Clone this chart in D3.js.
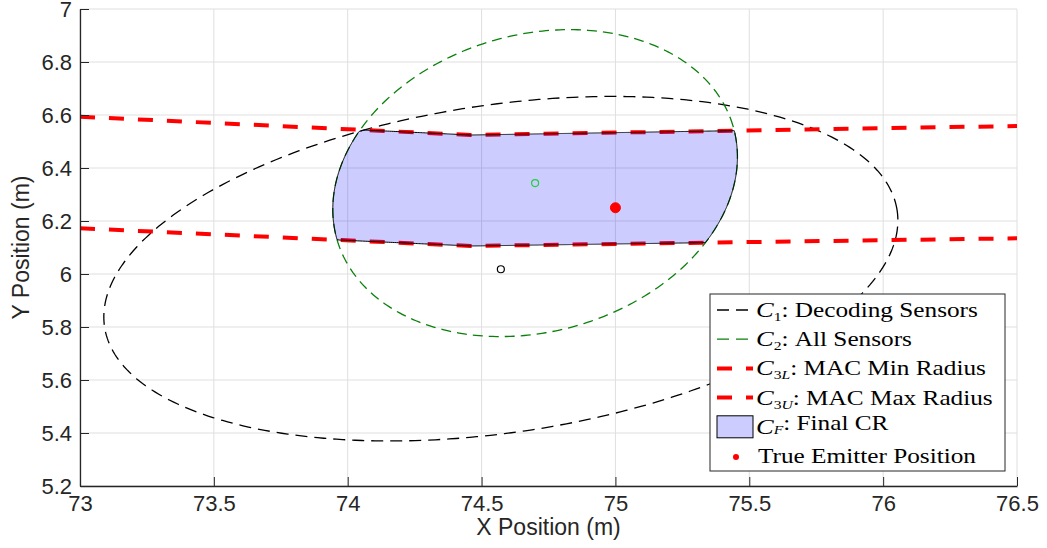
<!DOCTYPE html>
<html><head><meta charset="utf-8">
<script src="https://cdn.jsdelivr.net/npm/d3@7"></script>
<style>body{margin:0;background:#fff} svg{display:block}</style>
</head><body><svg id="chart" width="1047" height="548"></svg>
<script>
// ---- data ----
const xTicks = [73, 73.5, 74, 74.5, 75, 75.5, 76, 76.5];
const yTicks = [5.2, 5.4, 5.6, 5.8, 6, 6.2, 6.4, 6.6, 6.8, 7];
// ellipse parameters: [centre x, centre y, semi-axis a, semi-axis b, rotation (deg)]
const c1Ellipse = [74.572, 6.02, 1.4965, 0.6185, 8.45];
const c2Ellipse = [74.70, 6.343, 0.770, 0.560, 16.2];
// MAC radius arcs (sampled polyline)
const c3LX = [73, 74.46, 76.5];
const c3LY = [6.5936, 6.5245, 6.5585];
const c3UX = [73, 74.46, 76.5];
const c3UY = [6.1725, 6.1057, 6.1347];
// point estimates
const c1Estimate = [74.572, 6.018];
const c2Estimate = [74.70, 6.343];
const trueEmitter = [75.0, 6.25];
const legendLabels = ["Decoding Sensors", "All Sensors", "MAC Min Radius", "MAC Max Radius", "Final CR", "True Emitter Position"];
const legendSubs = [["1", ""], ["2", ""], ["3", "L"], ["3", "U"], ["", "F"], null];

// ---- layout ----
const L = 80, R = 1017, T = 9, B = 486;
const svg = d3.select("#chart");
const x = d3.scaleLinear().domain([73, 76.5]).range([L, R]);
const y = d3.scaleLinear().domain([5.2, 7]).range([B, T]);
const axisCol = "#262626";
const sansFont = "'Liberation Sans', Arial, Helvetica, sans-serif";
const serifFont = "'Liberation Serif', 'Times New Roman', serif";

svg.append("defs").append("clipPath").attr("id", "plotClip")
  .append("rect").attr("x", L).attr("y", T).attr("width", R - L).attr("height", B - T);

// grid
const grid = svg.append("g");
grid.selectAll("line.vx").data(xTicks).join("line")
  .attr("x1", d => x(d)).attr("x2", d => x(d)).attr("y1", T).attr("y2", B)
  .attr("stroke", "#dfdfdf").attr("stroke-width", 1);
grid.selectAll("line.hy").data(yTicks).join("line")
  .attr("x1", L).attr("x2", R).attr("y1", d => y(d)).attr("y2", d => y(d))
  .attr("stroke", "#dfdfdf").attr("stroke-width", 1);

// ellipse helpers
function ellipsePoints(e) {
  const [cx, cy, a, b, deg] = e, th = deg * Math.PI / 180;
  return d3.range(0, 361, 1).map(t => {
    const r = t * Math.PI / 180;
    return [cx + a * Math.cos(th) * Math.cos(r) - b * Math.sin(th) * Math.sin(r),
            cy + a * Math.sin(th) * Math.cos(r) + b * Math.cos(th) * Math.sin(r)];
  });
}
function inEllipse(e, px, py) {
  const [cx, cy, a, b, deg] = e, th = deg * Math.PI / 180;
  const dx = px - cx, dy = py - cy;
  const u = dx * Math.cos(th) + dy * Math.sin(th);
  const v = -dx * Math.sin(th) + dy * Math.cos(th);
  return (u / a) ** 2 + (v / b) ** 2 <= 1;
}
const upperFn = d3.scaleLinear().domain(c3LX).range(c3LY);
const lowerFn = d3.scaleLinear().domain(c3UX).range(c3UY);
function inRegion(px, py) {
  return inEllipse(c1Ellipse, px, py) && inEllipse(c2Ellipse, px, py) &&
    py <= upperFn(px) && py >= lowerFn(px);
}
// boundary of the intersection (star-shaped from an interior point)
const o = [(c2Estimate[0] + trueEmitter[0]) / 2, (c2Estimate[1] + trueEmitter[1]) / 2];
const region = d3.range(0, 2000).map(i => {
  const ang = i / 2000 * 2 * Math.PI;
  let lo = 0, hi = 2;
  for (let k = 0; k < 40; k++) {
    const m = (lo + hi) / 2;
    if (inRegion(o[0] + m * Math.cos(ang), o[1] + m * Math.sin(ang))) lo = m; else hi = m;
  }
  return [o[0] + lo * Math.cos(ang), o[1] + lo * Math.sin(ang)];
});

const line = d3.line().x(d => x(d[0])).y(d => y(d[1]));
const plot = svg.append("g").attr("clip-path", "url(#plotClip)");

plot.append("path").attr("d", line(ellipsePoints(c1Ellipse)))
  .attr("fill", "none").attr("stroke", "#000").attr("stroke-width", 1.3).attr("stroke-dasharray", "12,7");
plot.append("path").attr("d", line(ellipsePoints(c2Ellipse)))
  .attr("fill", "none").attr("stroke", "#0a800a").attr("stroke-width", 1.3).attr("stroke-dasharray", "10,6");
plot.append("path").attr("d", line(c3LX.map((v, i) => [v, c3LY[i]])))
  .attr("fill", "none").attr("stroke", "#ff0000").attr("stroke-width", 4).attr("stroke-dasharray", "15,14");
plot.append("path").attr("d", line(c3UX.map((v, i) => [v, c3UY[i]])))
  .attr("fill", "none").attr("stroke", "#ff0000").attr("stroke-width", 4).attr("stroke-dasharray", "15,14");
plot.append("path").attr("d", line(region) + "Z")
  .attr("fill", "rgba(0,0,255,0.2)").attr("stroke", "#000").attr("stroke-width", 1);

// markers
plot.append("circle").attr("cx", x(c1Estimate[0])).attr("cy", y(c1Estimate[1])).attr("r", 3.5)
  .attr("fill", "none").attr("stroke", "#000").attr("stroke-width", 1.2);
plot.append("circle").attr("cx", x(c2Estimate[0])).attr("cy", y(c2Estimate[1])).attr("r", 3.5)
  .attr("fill", "none").attr("stroke", "#1fd13a").attr("stroke-width", 1.2);
plot.append("circle").attr("cx", x(trueEmitter[0])).attr("cy", y(trueEmitter[1])).attr("r", 5)
  .attr("fill", "#ff0000").attr("stroke", "#ff0000").attr("stroke-width", 1);

// axes
const xAxis = d3.axisBottom(x).tickValues(xTicks).tickFormat(d3.format("~g"))
  .tickSizeInner(-9).tickSizeOuter(0).tickPadding(9);
const yAxis = d3.axisLeft(y).tickValues(yTicks).tickFormat(d3.format("~g"))
  .tickSizeInner(-9).tickSizeOuter(0).tickPadding(8);
const gx = svg.append("g").attr("transform", `translate(0,${B})`).call(xAxis);
const gy = svg.append("g").attr("transform", `translate(${L},0)`).call(yAxis);
[gx, gy].forEach(g => {
  g.select(".domain").attr("stroke", axisCol).attr("stroke-width", 1.3);
  g.selectAll(".tick line").attr("stroke", axisCol).attr("stroke-width", 1);
  g.selectAll(".tick text").attr("fill", axisCol).attr("font-family", sansFont).attr("font-size", 22);
});
svg.append("text").attr("x", (L + R) / 2).attr("y", 535).attr("text-anchor", "middle")
  .attr("font-family", sansFont).attr("font-size", 23).attr("fill", axisCol).text("X Position (m)");
svg.append("text").attr("transform", `translate(29,${(T + B) / 2}) rotate(-90)`).attr("text-anchor", "middle")
  .attr("font-family", sansFont).attr("font-size", 23).attr("fill", axisCol).text("Y Position (m)");

// legend
const lg = svg.append("g");
const lx0 = 710, ly0 = 294, lw = 295, lh = 177;
lg.append("rect").attr("x", lx0).attr("y", ly0).attr("width", lw).attr("height", lh)
  .attr("fill", "#fff").attr("stroke", axisCol).attr("stroke-width", 1);
const rowY = i => 310 + i * 29.2;
const styles = [
  {c: "#000", w: 1.3, d: "12,7"},
  {c: "#0a800a", w: 1.3, d: "12,7"},
  {c: "#ff0000", w: 4, d: "15,14"},
  {c: "#ff0000", w: 4, d: "15,14"}
];
styles.forEach((s, i) => {
  lg.append("line").attr("x1", 717).attr("x2", 753).attr("y1", rowY(i)).attr("y2", rowY(i))
    .attr("stroke", s.c).attr("stroke-width", s.w).attr("stroke-dasharray", s.d);
});
lg.append("rect").attr("x", 717).attr("y", rowY(4) - 11).attr("width", 36).attr("height", 22)
  .attr("fill", "rgba(0,0,255,0.2)").attr("stroke", "#000").attr("stroke-width", 1);
lg.append("circle").attr("cx", 736).attr("cy", rowY(5) + 1).attr("r", 3).attr("fill", "#ff0000");

const texts = [];
legendLabels.forEach((lab, i) => {
  const sx = sub => sub ? 756 : 758;
  const t = lg.append("text").attr("x", sx(legendSubs[i])).attr("y", rowY(i) + 7)
    .attr("font-family", serifFont).attr("font-size", 21).attr("fill", "#000");
  const sub = legendSubs[i];
  if (sub) {
    t.append("tspan").attr("font-style", "italic").attr("font-size", 22).text("C");
    const s1 = t.append("tspan").attr("font-size", 13).attr("dy", 4);
    if (sub[0]) s1.text(sub[0]);
    if (sub[1]) t.append("tspan").attr("font-size", 13).attr("font-style", "italic").text(sub[1]);
    t.append("tspan").attr("dy", -4).text(":\u00a0" + lab);
  } else {
    t.text(lab);
  }
  texts.push([t, sx(sub)]);
});
// widen the serif text to match the LaTeX (Computer Modern) widths of the reference
const w0 = texts[0][0].node().getComputedTextLength();
const f = 222 / w0;
texts.forEach(([t, sx]) => t.attr("transform", `translate(${sx},0) scale(${f},1) translate(${-sx},0)`));
</script>
</body></html>
